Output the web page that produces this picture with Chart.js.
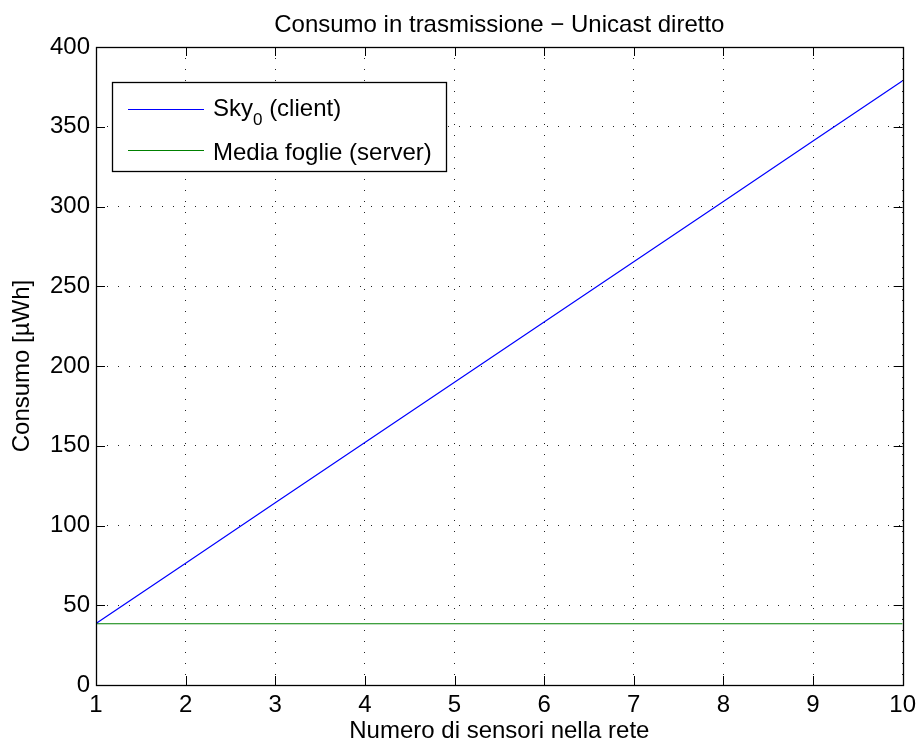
<!DOCTYPE html>
<html>
<head>
<meta charset="utf-8">
<script src="https://cdn.jsdelivr.net/npm/chart.js@4/dist/chart.umd.min.js"></script>
<style>
  html, body { margin: 0; padding: 0; background: #fff; }
  #wrap { width: 922px; height: 752px; position: relative; }
</style>
</head>
<body>
<div id="wrap"><canvas id="chart" width="922" height="752"></canvas></div>
<script>
// ------------------------
// Data
// ------------------------
const sensori = [1, 2, 3, 4, 5, 6, 7, 8, 9, 10];
const skyClient = [38.5, 76.3, 114.2, 152.0, 189.8, 227.6, 265.4, 303.2, 341.0, 378.8];
const mediaFoglie = [38.4, 38.4, 38.4, 38.4, 38.4, 38.4, 38.4, 38.4, 38.4, 38.4];
const yTicks = [0, 50, 100, 150, 200, 250, 300, 350, 400];

const titleText = "Consumo in trasmissione \u2212 Unicast diretto";
const xTitle = "Numero di sensori nella rete";
const yTitle = "Consumo [\u00b5Wh]";

const FONT = "'Liberation Sans', Arial, Helvetica, sans-serif";
const FS = 24;

// frame, inside ticks, title and legend (matlab look)
const matlabFrame = {
    id: "matlabFrame",
    afterDraw(chart) {
        const { ctx, chartArea: a, scales } = chart;
        ctx.save();
        ctx.strokeStyle = "#000";
        ctx.lineWidth = 1;
        const tl = 9;
        ctx.beginPath();
        scales.x.ticks.forEach(t => {
            const px = Math.round(scales.x.getPixelForValue(t.value)) + 0.5;
            ctx.moveTo(px, a.bottom); ctx.lineTo(px, a.bottom - tl);
            ctx.moveTo(px, a.top); ctx.lineTo(px, a.top + tl);
        });
        scales.y.ticks.forEach(t => {
            const py = Math.round(scales.y.getPixelForValue(t.value)) + 0.5;
            ctx.moveTo(a.left, py); ctx.lineTo(a.left + tl, py);
            ctx.moveTo(a.right, py); ctx.lineTo(a.right - tl, py);
        });
        ctx.stroke();
        ctx.lineWidth = 1.3;
        ctx.strokeRect(Math.round(a.left) + 0.5, Math.round(a.top) + 0.5,
            Math.round(a.right - a.left), Math.round(a.bottom - a.top));

        // title
        ctx.fillStyle = "#000";
        ctx.font = FS + "px " + FONT;
        ctx.textAlign = "center";
        ctx.textBaseline = "alphabetic";
        ctx.fillText(titleText, (a.left + a.right) / 2, 32);

        // legend
        const lx = 112.5, ly = 82.5, lw = 334, lh = 89;
        ctx.fillStyle = "#fff";
        ctx.fillRect(lx, ly, lw, lh);
        ctx.strokeStyle = "#000";
        ctx.lineWidth = 1.3;
        ctx.strokeRect(lx, ly, lw, lh);
        const entries = [
            { color: "#0000ff", y: 109 },
            { color: "#008000", y: 150 },
        ];
        ctx.lineWidth = 1.2;
        entries.forEach(e => {
            ctx.strokeStyle = e.color;
            ctx.beginPath();
            ctx.moveTo(128, e.y + 0.5);
            ctx.lineTo(204, e.y + 0.5);
            ctx.stroke();
        });
        ctx.fillStyle = "#000";
        ctx.textAlign = "left";
        ctx.font = FS + "px " + FONT;
        let tx = 213;
        ctx.fillText("Sky", tx, 116);
        tx += ctx.measureText("Sky").width;
        ctx.font = "17px " + FONT;
        ctx.fillText("0", tx, 125);
        tx += ctx.measureText("0").width;
        ctx.font = FS + "px " + FONT;
        ctx.fillText(" (client)", tx, 116);
        ctx.fillText("Media foglie (server)", 213, 160);
        ctx.restore();
    }
};

const dotted = {
    color: "#222",
    lineWidth: 1,
    drawTicks: false,
};

new Chart(document.getElementById("chart").getContext("2d"), {
    type: "line",
    data: {
        labels: sensori,
        datasets: [
            {
                label: "Sky0 (client)",
                data: sensori.map((x, i) => ({ x: x, y: skyClient[i] })),
                borderColor: "#0000ff",
                borderWidth: 1.2,
                pointRadius: 0,
                tension: 0,
            },
            {
                label: "Media foglie (server)",
                data: sensori.map((x, i) => ({ x: x, y: mediaFoglie[i] })),
                borderColor: "#008000",
                borderWidth: 1.2,
                pointRadius: 0,
                tension: 0,
            },
        ],
    },
    options: {
        responsive: false,
        animation: false,
        layout: { padding: { top: 47, right: 17, left: 0, bottom: 0 } },
        plugins: {
            legend: { display: false },
            title: { display: false },
            tooltip: { enabled: false },
        },
        scales: {
            x: {
                type: "linear",
                min: 1,
                max: 10,
                afterBuildTicks: s => { s.ticks = sensori.map(v => ({ value: v })); },
                afterFit: s => { s.height = 67; },
                grid: { ...dotted },
                border: { display: false, dash: [1, 10] },
                ticks: { color: "#000", padding: 6, font: { size: FS, family: FONT }, maxRotation: 0 },
                title: { display: true, text: xTitle, color: "#000", font: { size: FS, family: FONT }, padding: { top: 0, bottom: 6 } },
            },
            y: {
                min: 0,
                max: 400,
                afterBuildTicks: s => { s.ticks = yTicks.map(v => ({ value: v })); },
                afterFit: s => { s.width = 96; },
                grid: { ...dotted },
                border: { display: false, dash: [1, 10] },
                ticks: { color: "#000", padding: 6, font: { size: FS, family: FONT } },
                title: { display: true, text: yTitle, color: "#000", font: { size: FS, family: FONT }, padding: { top: 8, bottom: 4 } },
            },
        },
    },
    plugins: [matlabFrame],
});
</script>
</body>
</html>
